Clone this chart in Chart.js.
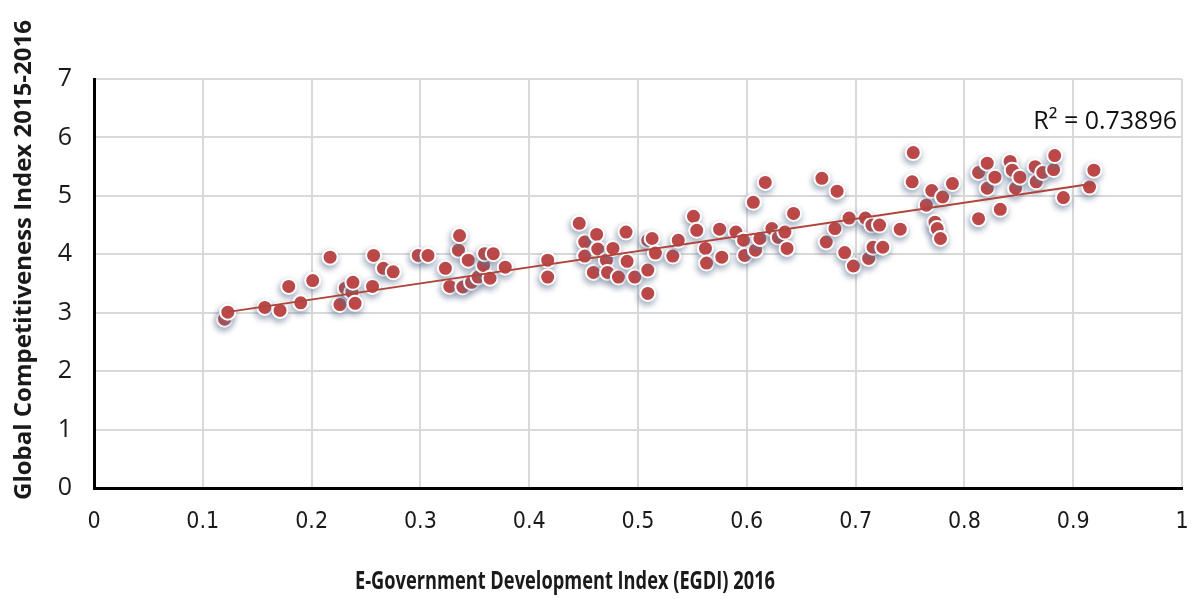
<!DOCTYPE html>
<html>
<head>
<meta charset="utf-8">
<script src="https://cdn.jsdelivr.net/npm/chart.js@4/dist/chart.umd.min.js"></script>
<style>
	html, body { margin: 0; padding: 0; background: #fff; }
	#wrap { width: 1194px; height: 599px; }
</style>
</head>
<body>
<div id="wrap"><canvas id="egdi-gci"></canvas></div>
<script>
// values
const egdi = [
	0.120, 0.123, 0.157, 0.171, 0.179, 0.190, 0.201, 0.217, 0.226, 0.231,
	0.237, 0.238, 0.240, 0.256, 0.257, 0.266, 0.275, 0.298, 0.307, 0.323,
	0.327, 0.335, 0.336, 0.339, 0.344, 0.347, 0.353, 0.358, 0.359, 0.364,
	0.367, 0.378, 0.417, 0.417, 0.446, 0.451, 0.451, 0.459, 0.462, 0.463,
	0.471, 0.472, 0.477, 0.482, 0.489, 0.490, 0.497, 0.509, 0.509, 0.509,
	0.513, 0.516, 0.532, 0.537, 0.551, 0.554, 0.562, 0.563, 0.575, 0.577,
	0.590, 0.597, 0.598, 0.606, 0.608, 0.612, 0.617, 0.623, 0.629, 0.635,
	0.637, 0.643, 0.669, 0.673, 0.681, 0.683, 0.690, 0.694, 0.698, 0.709,
	0.712, 0.715, 0.716, 0.722, 0.725, 0.741, 0.752, 0.753, 0.765, 0.770,
	0.773, 0.775, 0.778, 0.780, 0.789, 0.813, 0.813, 0.821, 0.821, 0.828,
	0.833, 0.842, 0.844, 0.847, 0.851, 0.865, 0.866, 0.872, 0.882, 0.883,
	0.891, 0.915, 0.919
];
const gci = [
	2.89, 3.01, 3.09, 3.04, 3.45, 3.17, 3.55, 3.95, 3.14, 3.42,
	3.35, 3.52, 3.16, 3.45, 3.98, 3.76, 3.70, 3.98, 3.98, 3.76,
	3.45, 4.07, 4.32, 3.44, 3.90, 3.52, 3.61, 3.81, 4.01, 3.59,
	4.01, 3.78, 3.90, 3.61, 4.53, 4.21, 3.97, 3.69, 4.34, 4.09,
	3.90, 3.69, 4.10, 3.61, 4.38, 3.88, 3.61, 4.24, 3.73, 3.33,
	4.27, 4.02, 3.97, 4.24, 4.65, 4.41, 4.10, 3.85, 4.43, 3.95,
	4.38, 4.24, 3.98, 4.89, 4.07, 4.27, 5.23, 4.44, 4.29, 4.38,
	4.10, 4.70, 5.30, 4.21, 4.44, 5.08, 4.03, 4.62, 3.80, 4.62,
	3.93, 4.50, 4.12, 4.50, 4.12, 4.43, 5.24, 5.74, 4.84, 5.09,
	4.55, 4.44, 4.27, 4.98, 5.21, 5.40, 4.61, 5.56, 5.13, 5.32,
	4.77, 5.59, 5.44, 5.13, 5.32, 5.50, 5.24, 5.40, 5.45, 5.69,
	4.97, 5.15, 5.44
];
// trendline ends as drawn in the picture
const trendX = [0.122, 0.919];
const trendY = [3.01, 5.21];
const rSquared = 'R² = 0.73896';
const xTitle = 'E-Government Development Index (EGDI) 2016';
const yTitle = 'Global Competitiveness Index 2015-2016';

const pointShadow = {
	id: 'pointShadow',
	beforeDatasetDraw(chart, args) {
		if (args.index !== 0) return;
		const ctx = chart.ctx;
		ctx.save();
		ctx.shadowColor = 'rgba(95,115,145,0.6)';
		ctx.shadowBlur = 6;
		ctx.shadowOffsetX = -1;
		ctx.shadowOffsetY = 3;
	},
	afterDatasetDraw(chart, args) {
		if (args.index !== 0) return;
		chart.ctx.restore();
	}
};

// draw text squeezed to a given width (the source uses a condensed face)
function fitText(ctx, text, x, y, width, align) {
	const w = ctx.measureText(text).width;
	const k = Math.min(1, width / w);
	ctx.save();
	ctx.translate(x, y);
	ctx.scale(k, 1);
	ctx.textAlign = align;
	ctx.fillText(text, 0, 0);
	ctx.restore();
}

const texts = {
	id: 'texts',
	afterDraw(chart) {
		const ctx = chart.ctx;
		ctx.save();
		ctx.textBaseline = 'middle';
		ctx.fillStyle = '#111';
		ctx.font = '25px "Open Sans", sans-serif';
		fitText(ctx, rSquared, 1177, 122, 144, 'right');

		ctx.fillStyle = '#1a1a1a';
		ctx.font = 'bold 25px "Open Sans", sans-serif';
		fitText(ctx, xTitle, 565, 582, 420, 'center');

		ctx.translate(24, 260);
		ctx.rotate(-Math.PI / 2);
		ctx.font = 'bold 24px "Open Sans", sans-serif';
		fitText(ctx, yTitle, 0, 0, 510, 'center');
		ctx.restore();
	}
};

new Chart(
	document.getElementById('egdi-gci'),
	{
		type: 'scatter',
		data: {
			datasets: [
				{
					label: 'GCI',
					data: egdi.map((x, i) => ({ x: x, y: gci[i] })),
					backgroundColor: '#c9433f',
					borderColor: '#ffffff',
					borderWidth: 2,
					pointRadius: 7.5,
					order: 1
				},
				{
					type: 'line',
					label: 'Linear',
					data: trendX.map((x, i) => ({ x: x, y: trendY[i] })),
					borderColor: '#b0443a',
					borderWidth: 2,
					pointRadius: 0,
					fill: false,
					order: 0
				}
			]
		},
		options: {
			responsive: true,
			maintainAspectRatio: false,
			animation: false,
			layout: { padding: { top: 79, right: 12, left: 0, bottom: 0 } },
			plugins: {
				legend: { display: false },
				tooltip: { enabled: false }
			},
			scales: {
				x: {
					type: 'linear',
					min: 0,
					max: 1,
					afterFit(scale) {
						scale.height = 111;
						scale.paddingLeft = 0;
						scale.paddingRight = 0;
					},
					border: { color: '#000', width: 3 },
					grid: { color: '#d9d9d9', lineWidth: 2, drawTicks: false },
					ticks: {
						stepSize: 0.1,
						padding: 20,
						color: '#1a1a1a',
						font: { family: '"DejaVu Sans Condensed", sans-serif', size: 23 },
						callback: v => Math.round(v * 10) / 10
					}
				},
				y: {
					min: 0,
					max: 7,
					afterFit(scale) { scale.width = 94; },
					border: { color: '#000', width: 3 },
					grid: { color: '#d9d9d9', lineWidth: 2, drawTicks: false },
					ticks: {
						stepSize: 1,
						padding: 22,
						color: '#1a1a1a',
						font: { family: '"Open Sans", sans-serif', size: 25 }
					}
				}
			}
		},
		plugins: [pointShadow, texts]
	}
);
</script>
</body>
</html>
